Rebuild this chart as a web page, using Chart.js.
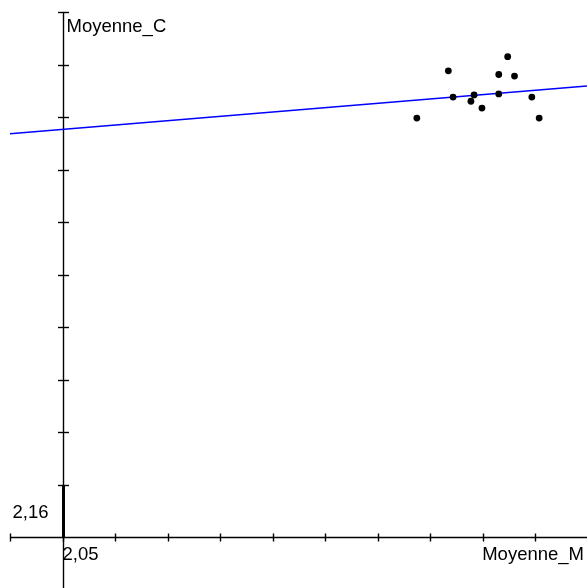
<!DOCTYPE html>
<html>
<head>
<meta charset="utf-8">
<script src="https://cdn.jsdelivr.net/npm/chart.js@4/dist/chart.umd.min.js"></script>
<style>
  html, body { margin: 0; padding: 0; background: #fff; }
  #wrap { width: 587px; height: 588px; }
</style>
</head>
<body>
<div id="wrap"><canvas id="nuage" width="587" height="588"></canvas></div>
<script>
// Données
const moyenneM = [2.1174, 2.1234, 2.1243, 2.1277, 2.1283, 2.1298, 2.1330, 2.1330, 2.1347, 2.1360, 2.1393, 2.1407];
const moyenneC = [2.2298, 2.2388, 2.2338, 2.2330, 2.2342, 2.2317, 2.2381, 2.2344, 2.2415, 2.2378, 2.2338, 2.2298];

// Droite de régression (extrémités)
const droiteX = [2.0399, 2.1498];
const droiteY = [2.2268, 2.2359];

// Graduations
const ticksX = [2.04, 2.05, 2.06, 2.07, 2.08, 2.09, 2.10, 2.11, 2.12, 2.13, 2.14];
const ticksY = [2.16, 2.17, 2.18, 2.19, 2.20, 2.21, 2.22, 2.23, 2.24, 2.25];
const origineX = 2.05;
const origineY = 2.15;
const labelX = '2,05';
const labelY = '2,16';
const titreX = 'Moyenne_M';
const titreY = 'Moyenne_C';

const points = moyenneM.map((x, i) => ({ x: x, y: moyenneC[i] }));
const droite = droiteX.map((x, i) => ({ x: x, y: droiteY[i] }));

// Axes dessinés à la main (style logiciel de stats)
const axesPlugin = {
    id: 'axes',
    beforeDatasetsDraw(chart) {
        const ctx = chart.ctx;
        const sx = chart.scales.x;
        const sy = chart.scales.y;
        const x0 = Math.round(sx.getPixelForValue(origineX)) + 0.5;
        const y0 = Math.round(sy.getPixelForValue(origineY)) + 0.5;
        const yTop = Math.round(sy.getPixelForValue(ticksY[ticksY.length - 1])) + 0.5;
        const xLeft = Math.round(sx.getPixelForValue(ticksX[0])) + 0.5;

        ctx.save();
        ctx.strokeStyle = '#000';
        ctx.lineWidth = 1.4;

        // axe horizontal
        ctx.beginPath();
        ctx.moveTo(xLeft, y0);
        ctx.lineTo(chart.width, y0);
        ctx.stroke();

        // axe vertical
        ctx.beginPath();
        ctx.moveTo(x0, yTop);
        ctx.lineTo(x0, chart.height);
        ctx.stroke();

        // graduations x
        ticksX.forEach(v => {
            const px = Math.round(sx.getPixelForValue(v)) + 0.5;
            ctx.beginPath();
            ctx.moveTo(px, y0 - 4);
            ctx.lineTo(px, y0 + 4);
            ctx.stroke();
        });

        // graduations y
        ticksY.forEach(v => {
            const py = Math.round(sy.getPixelForValue(v)) + 0.5;
            ctx.beginPath();
            ctx.moveTo(x0 - 5.5, py);
            ctx.lineTo(x0 + 5.5, py);
            ctx.stroke();
        });

        // coupure de l'axe (trait épais)
        const y16 = Math.round(sy.getPixelForValue(ticksY[0])) + 0.5;
        ctx.lineWidth = 3;
        ctx.beginPath();
        ctx.moveTo(x0, y16);
        ctx.lineTo(x0, y0);
        ctx.stroke();

        // textes
        ctx.fillStyle = '#000';
        ctx.font = '18.5px "Liberation Sans", Arial, sans-serif';
        ctx.textBaseline = 'alphabetic';
        ctx.textAlign = 'left';
        ctx.fillText(titreY, x0 + 3, yTop + 19);
        ctx.fillText(labelX, x0 - 1, y0 + 22);
        ctx.textAlign = 'right';
        ctx.fillText(titreX, chart.width - 3, y0 + 22);
        ctx.fillText(labelY, x0 - 15, y16 + 32);
        ctx.restore();
    }
};

const ctx = document.getElementById('nuage').getContext('2d');
const chart = new Chart(ctx, {
    type: 'scatter',
    data: {
        datasets: [{
            label: 'droite',
            type: 'line',
            data: droite,
            borderColor: '#0000ff',
            borderWidth: 1.5,
            pointRadius: 0,
            fill: false,
            tension: 0,
            order: 2
        }, {
            label: 'points',
            data: points,
            backgroundColor: '#000',
            borderColor: '#000',
            pointRadius: 3.4,
            pointBorderWidth: 0,
            order: 1
        }]
    },
    options: {
        responsive: false,
        animation: false,
        layout: { padding: 0, autoPadding: false },
        plugins: {
            legend: { display: false },
            tooltip: { enabled: false }
        },
        scales: {
            x: { type: 'linear', display: false, min: 2.038, max: 2.14981 },
            y: { type: 'linear', display: false, min: 2.140286, max: 2.252286 }
        }
    },
    plugins: [axesPlugin]
});
</script>
</body>
</html>
